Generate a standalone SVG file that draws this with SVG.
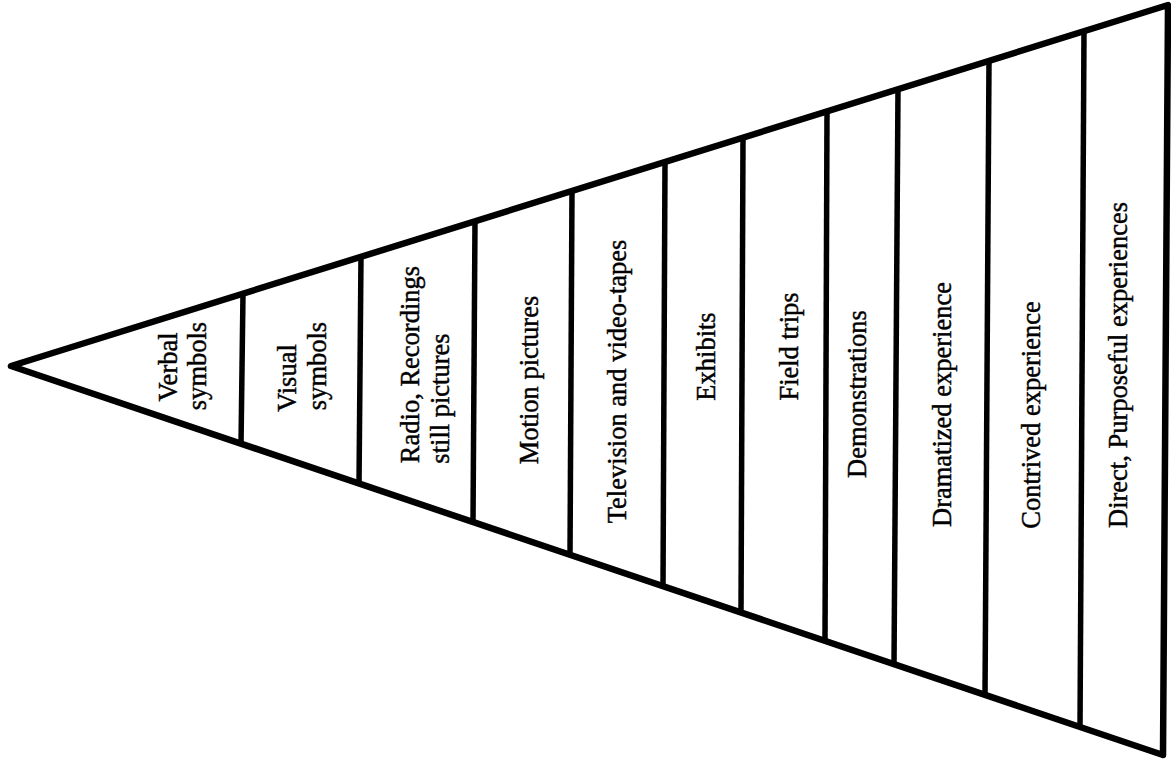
<svg xmlns="http://www.w3.org/2000/svg" width="1171" height="762" viewBox="0 0 1171 762">
<style>
.edge{fill:none;stroke:#000;stroke-width:6.5;stroke-linejoin:round;stroke-linecap:round}
.div{stroke:#000;stroke-width:5.5;stroke-linecap:butt}
.lbl{font-family:"Liberation Serif","Times New Roman",serif;font-size:26.5px;fill:#000;stroke:#000;stroke-width:0.45;text-anchor:middle}
</style>
<rect width="1171" height="762" fill="#fff"/>
<g id="connectors">
<polygon id="cone" class="edge" points="11,366 1168,5 1163,755"/>
<line class="div" x1="243" y1="293" x2="241" y2="445"/>
<line class="div" x1="361" y1="256" x2="359" y2="485"/>
<line class="div" x1="475" y1="221" x2="473" y2="523"/>
<line class="div" x1="572" y1="191" x2="570" y2="556"/>
<line class="div" x1="665" y1="162" x2="663" y2="587"/>
<line class="div" x1="743" y1="137" x2="741" y2="614"/>
<line class="div" x1="827" y1="111" x2="825" y2="642"/>
<line class="div" x1="898" y1="89" x2="894" y2="666"/>
<line class="div" x1="989" y1="61" x2="985" y2="696"/>
<line class="div" x1="1084" y1="31" x2="1080" y2="728"/>
</g>
<g id="n1"><text class="lbl" transform="translate(177,367) rotate(-90)">Verbal</text><text class="lbl" transform="translate(206,366) rotate(-90)">symbols</text></g>
<g id="n2"><text class="lbl" transform="translate(296,378) rotate(-90)">Visual</text><text class="lbl" transform="translate(326,366) rotate(-90)">symbols</text></g>
<g id="n3"><text class="lbl" transform="translate(419,364.5) rotate(-90)">Radio, Recordings</text><text class="lbl" transform="translate(449,398.5) rotate(-90)">still pictures</text></g>
<g id="n4"><text class="lbl" transform="translate(538,380) rotate(-90)">Motion pictures</text></g>
<g id="n5"><text class="lbl" transform="translate(626,381.5) rotate(-90)">Television and video-tapes</text></g>
<g id="n6"><text class="lbl" transform="translate(715,356.5) rotate(-90)">Exhibits</text></g>
<g id="n7"><text class="lbl" transform="translate(798,346.5) rotate(-90)">Field trips</text></g>
<g id="n8"><text class="lbl" transform="translate(866,394) rotate(-90)">Demonstrations</text></g>
<g id="n9"><text class="lbl" transform="translate(951,404.5) rotate(-90)">Dramatized experience</text></g>
<g id="n10"><text class="lbl" transform="translate(1040,415) rotate(-90)">Contrived experience</text></g>
<g id="n11"><text class="lbl" transform="translate(1127,365) rotate(-90)">Direct, Purposeful experiences</text></g>
</svg>
